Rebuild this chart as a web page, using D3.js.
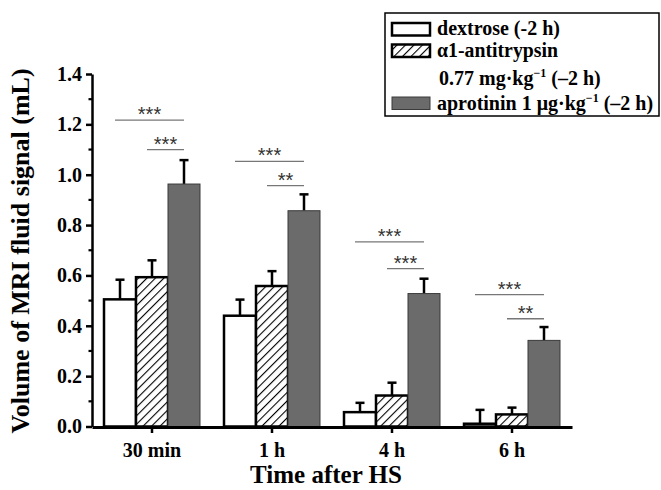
<!DOCTYPE html>
<html>
<head>
<meta charset="utf-8">
<script src="https://cdn.jsdelivr.net/npm/d3@7"></script>
<style>
  body { margin: 0; background: #fff; }
  text { font-family: "Liberation Serif", "Times New Roman", serif; font-weight: bold; }
</style>
</head>
<body>
<script>
// data
let categories = ["30 min", "1 h", "4 h", "6 h"];
let series = ["dextrose", "a1at", "aprotinin"];
let dextrose = [0.505, 0.44, 0.057, 0.011];
let dextroseErr = [0.078, 0.064, 0.037, 0.055];
let antitrypsin = [0.593, 0.558, 0.123, 0.048];
let antitrypsinErr = [0.067, 0.059, 0.051, 0.027];
let aprotinin = [0.963, 0.857, 0.528, 0.342];
let aprotininErr = [0.095, 0.065, 0.059, 0.053];
let yTicks = [0, 0.2, 0.4, 0.6, 0.8, 1.0, 1.2, 1.4];
// significance brackets (height in mL, label)
let sigLongY = [1.217, 1.053, 0.733, 0.524];
let sigLongLabel = ["***", "***", "***", "***"];
let sigShortY = [1.10, 0.957, 0.627, 0.428];
let sigShortLabel = ["***", "**", "***", "**"];

function graficar() {
  let w = 661, h = 490;
  let svg = d3.select("body").append("svg").attr("width", w).attr("height", h);

  let defs = svg.append("defs");
  let pat = defs.append("pattern")
    .attr("id", "hatch")
    .attr("patternUnits", "userSpaceOnUse")
    .attr("width", 6).attr("height", 6)
    .attr("patternTransform", "rotate(45)");
  pat.append("rect").attr("width", 6).attr("height", 6).attr("fill", "#fff");
  pat.append("line").attr("x1", 0).attr("y1", 0).attr("x2", 0).attr("y2", 6)
    .attr("stroke", "#000").attr("stroke-width", 2.2);

  let x0 = d3.scaleBand().domain(categories).range([92, 572]);
  let x1 = d3.scaleBand().domain(series).range([12, 108]);
  let y = d3.scaleLinear().domain([0, 1.4]).range([426.5, 74]);

  let fills = { dextrose: "#fff", a1at: "url(#hatch)", aprotinin: "#6b6b6b" };
  let strokes = { dextrose: "#000", a1at: "#000", aprotinin: "#3a3a3a" };
  let sw = { dextrose: 2.5, a1at: 2.5, aprotinin: 1 };

  let rows = categories.map(function (c, i) {
    return [
      { cat: c, s: "dextrose", v: dextrose[i], e: dextroseErr[i] },
      { cat: c, s: "a1at", v: antitrypsin[i], e: antitrypsinErr[i] },
      { cat: c, s: "aprotinin", v: aprotinin[i], e: aprotininErr[i] }
    ];
  });
  let flat = rows.flat();

  // error bars (drawn first so the bar tops cover the stem base)
  let eb = svg.append("g");
  eb.selectAll("line.stem").data(flat).enter().append("line")
    .attr("x1", function (d) { return x0(d.cat) + x1(d.s) + x1.bandwidth() / 2; })
    .attr("x2", function (d) { return x0(d.cat) + x1(d.s) + x1.bandwidth() / 2; })
    .attr("y1", function (d) { return y(d.v); })
    .attr("y2", function (d) { return y(d.v + d.e); })
    .attr("stroke", "#000").attr("stroke-width", 2.5);
  eb.selectAll("line.cap").data(flat).enter().append("line")
    .attr("x1", function (d) { return x0(d.cat) + x1(d.s) + x1.bandwidth() / 2 - 4.5; })
    .attr("x2", function (d) { return x0(d.cat) + x1(d.s) + x1.bandwidth() / 2 + 4.5; })
    .attr("y1", function (d) { return y(d.v + d.e); })
    .attr("y2", function (d) { return y(d.v + d.e); })
    .attr("stroke", "#000").attr("stroke-width", 2.5);

  // bars
  svg.append("g").selectAll("rect").data(flat).enter().append("rect")
    .attr("x", function (d) { return x0(d.cat) + x1(d.s); })
    .attr("y", function (d) { return y(d.v); })
    .attr("width", x1.bandwidth())
    .attr("height", function (d) { return y(0) - y(d.v); })
    .attr("fill", function (d) { return fills[d.s]; })
    .attr("stroke", function (d) { return strokes[d.s]; })
    .attr("stroke-width", function (d) { return sw[d.s]; });

  // significance lines
  let sig = svg.append("g");
  categories.forEach(function (c, i) {
    let gx = x0(c);
    let lx1 = gx + x1("dextrose") + x1.bandwidth() / 2 - 5;
    let sx1 = gx + x1("a1at") + x1.bandwidth() / 2 - 5;
    let ex = gx + x1("aprotinin") + x1.bandwidth() / 2;
    [[lx1, sigLongY[i], sigLongLabel[i]], [sx1, sigShortY[i], sigShortLabel[i]]].forEach(function (s) {
      sig.append("line")
        .attr("x1", s[0]).attr("x2", ex)
        .attr("y1", y(s[1])).attr("y2", y(s[1]))
        .attr("stroke", "#777").attr("stroke-width", 1.3);
      sig.append("text")
        .attr("x", (s[0] + ex) / 2)
        .attr("y", y(s[1]) + 1)
        .attr("text-anchor", "middle")
        .style("font-family", "Liberation Sans, Arial, sans-serif")
        .style("font-weight", "normal")
        .style("font-size", "20px")
        .attr("fill", "#333")
        .text(s[2]);
    });
  });

  // y axis
  let yAxis = svg.append("g").attr("transform", "translate(92,0)")
    .call(d3.axisLeft(y).tickValues(yTicks).tickSize(6).tickSizeOuter(0).tickPadding(4)
      .tickFormat(d3.format(".1f")));
  yAxis.select(".domain").attr("stroke-width", 2.5);
  yAxis.selectAll(".tick line").attr("stroke-width", 2.5);
  yAxis.selectAll(".tick text").style("font-size", "20px").style("font-family", "Liberation Serif, serif").attr("fill", "#000");
  let minor = d3.range(1, 14, 2).map(function (k) { return k / 10; });
  yAxis.selectAll("line.minor").data(minor).enter().append("line")
    .attr("x1", -3.5).attr("x2", 0)
    .attr("y1", function (d) { return y(d); }).attr("y2", function (d) { return y(d); })
    .attr("stroke", "#000").attr("stroke-width", 2.2);

  // x axis
  let xAxis = svg.append("g").attr("transform", "translate(0,427)")
    .call(d3.axisBottom(x0).tickSize(6).tickSizeOuter(0).tickPadding(10));
  xAxis.select(".domain").attr("stroke-width", 2.8);
  xAxis.selectAll(".tick line").attr("stroke-width", 2.5);
  xAxis.selectAll(".tick text").style("font-size", "20px").style("font-family", "Liberation Serif, serif").attr("fill", "#000");

  // axis titles
  svg.append("text")
    .attr("x", 326).attr("y", 483)
    .attr("text-anchor", "middle")
    .style("font-size", "25px")
    .text("Time after HS");
  svg.append("text")
    .attr("transform", "translate(29,251) rotate(-90)")
    .attr("text-anchor", "middle")
    .style("font-size", "26px")
    .text("Volume of MRI fluid signal (mL)");

  // legend
  let lg = svg.append("g");
  lg.append("rect").attr("x", 385).attr("y", 13).attr("width", 274).attr("height", 103)
    .attr("fill", "#fff").attr("stroke", "#000").attr("stroke-width", 1.5);
  let swY = { dextrose: 23, a1at: 44.5, aprotinin: 97 };
  series.forEach(function (s) {
    lg.append("rect").attr("x", 392).attr("y", swY[s]).attr("width", 38).attr("height", 12.5)
      .attr("fill", fills[s]).attr("stroke", strokes[s]).attr("stroke-width", s === "aprotinin" ? 1 : 2.5);
  });
  let fs = "20px";
  lg.append("text").attr("x", 437).attr("y", 35).style("font-size", fs)
    .attr("textLength", 123).attr("lengthAdjust", "spacingAndGlyphs").text("dextrose (-2 h)");
  lg.append("text").attr("x", 437).attr("y", 57).style("font-size", fs)
    .attr("textLength", 121).attr("lengthAdjust", "spacingAndGlyphs").text("\u03b11-antitrypsin");
  let t3 = lg.append("text").attr("x", 439).attr("y", 85).style("font-size", fs);
  t3.append("tspan").text("0.77 mg\u00b7kg");
  t3.append("tspan").attr("dy", -8).style("font-size", "12px").text("\u22121");
  t3.append("tspan").attr("dy", 8).text(" (\u20132 h)");
  let t4 = lg.append("text").attr("x", 437).attr("y", 110).style("font-size", fs);
  t4.append("tspan").text("aprotinin 1 \u03bcg\u00b7kg");
  t4.append("tspan").attr("dy", -8).style("font-size", "12px").text("\u22121");
  t4.append("tspan").attr("dy", 8).text(" (\u20132 h)");
}

graficar();
</script>
</body>
</html>
